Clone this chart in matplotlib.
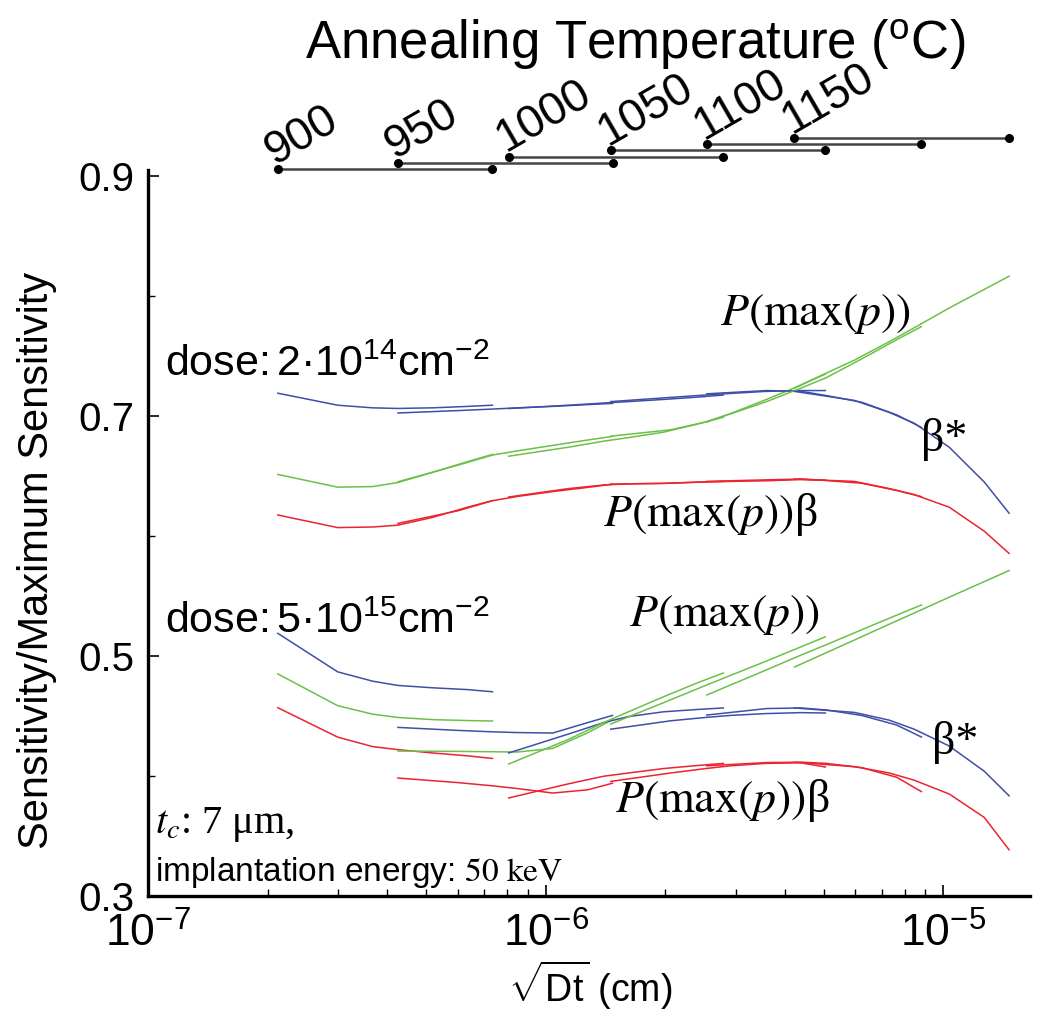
import numpy as np
import matplotlib
matplotlib.use('Agg')
import matplotlib.pyplot as plt
from matplotlib.ticker import LogLocator, NullFormatter

plt.rcParams['font.family'] = ['Liberation Sans', 'DejaVu Sans']
plt.rcParams['mathtext.fontset'] = 'custom'
plt.rcParams['mathtext.rm'] = 'Liberation Sans'
plt.rcParams['mathtext.it'] = 'Liberation Sans:italic'
plt.rcParams['mathtext.bf'] = 'Liberation Sans:bold'

# annealing temperatures (C), anneal times (min), diffusion length sqrt(Dt) after 5 min (cm)
temps = [900, 950, 1000, 1050, 1100, 1150]
times_min = [5, 10, 15, 20, 30, 45, 60]
diff_len_5min = [2.12e-7, 4.25e-7, 8.07e-7, 1.457e-6, 2.54e-6, 4.22e-6]

# dose 2e14 cm^-2, one row per temperature, one value per anneal time
beta_hi = [
    [0.719, 0.709, 0.7068, 0.7063, 0.7068, 0.708, 0.709],
    [0.7025, 0.7045, 0.7058, 0.7068, 0.708, 0.7095, 0.7105],
    [0.7062, 0.709, 0.7108, 0.712, 0.7138, 0.7158, 0.7175],
    [0.712, 0.7155, 0.7175, 0.7188, 0.7205, 0.7212, 0.7212],
    [0.7185, 0.7212, 0.7205, 0.717, 0.7115, 0.701, 0.6905],
    [0.7205, 0.713, 0.703, 0.694, 0.674, 0.645, 0.619],
]
pmax_hi = [
    [0.6513, 0.6407, 0.6412, 0.6445, 0.653, 0.662, 0.668],
    [0.6452, 0.659, 0.6675, 0.671, 0.6755, 0.68, 0.683],
    [0.6665, 0.674, 0.679, 0.682, 0.6865, 0.6935, 0.699],
    [0.6832, 0.6885, 0.695, 0.702, 0.7135, 0.7255, 0.735],
    [0.695, 0.712, 0.7235, 0.732, 0.7475, 0.7635, 0.7745],
    [0.7235, 0.7465, 0.762, 0.7735, 0.79, 0.8055, 0.8165],
]
prod_hi = [
    [0.6175, 0.607, 0.6075, 0.609, 0.6155, 0.624, 0.6295],
    [0.6105, 0.621, 0.6295, 0.633, 0.637, 0.6405, 0.6432],
    [0.6325, 0.6395, 0.6425, 0.6435, 0.6438, 0.645, 0.6455],
    [0.6432, 0.644, 0.645, 0.6455, 0.646, 0.647, 0.6465],
    [0.6455, 0.6468, 0.6475, 0.6462, 0.644, 0.638, 0.6328],
    [0.6475, 0.6455, 0.6395, 0.6345, 0.624, 0.604, 0.5855],
]

# dose 5e15 cm^-2
beta_lo = [
    [0.5189, 0.4868, 0.479, 0.4755, 0.4735, 0.472, 0.4702],
    [0.4405, 0.438, 0.4368, 0.4362, 0.4358, 0.4445, 0.4505],
    [0.4192, 0.435, 0.4445, 0.4495, 0.4535, 0.4555, 0.4567],
    [0.439, 0.446, 0.4488, 0.4505, 0.452, 0.4528, 0.4525],
    [0.4508, 0.4562, 0.4567, 0.455, 0.4505, 0.4425, 0.4325],
    [0.4567, 0.453, 0.4465, 0.439, 0.425, 0.404, 0.3835],
]
pmax_lo = [
    [0.4851, 0.4586, 0.4515, 0.4488, 0.447, 0.4462, 0.4458],
    [0.4208, 0.4205, 0.4202, 0.42, 0.423, 0.436, 0.447],
    [0.41, 0.4305, 0.4445, 0.4535, 0.466, 0.478, 0.4858],
    [0.4433, 0.4635, 0.4755, 0.4838, 0.4955, 0.5075, 0.516],
    [0.4675, 0.4885, 0.501, 0.5095, 0.5218, 0.534, 0.5425],
    [0.4908, 0.5133, 0.5265, 0.5358, 0.549, 0.562, 0.5712],
]
prod_lo = [
    [0.4569, 0.4324, 0.4245, 0.422, 0.4192, 0.4168, 0.4146],
    [0.3983, 0.3945, 0.3918, 0.3895, 0.3858, 0.3885, 0.394],
    [0.3817, 0.3935, 0.3998, 0.4025, 0.4062, 0.4088, 0.4105],
    [0.3955, 0.4025, 0.4062, 0.4085, 0.4105, 0.411, 0.4075],
    [0.4085, 0.4112, 0.4115, 0.4105, 0.407, 0.399, 0.387],
    [0.4115, 0.4078, 0.4025, 0.3965, 0.385, 0.3655, 0.3385],
]

blue = '#3f4fa8'
green = '#6cc04a'
red = '#ec2330'

W, H = 1050, 1025
def fx(px):
    return px / W
def fy(py):
    return 1 - py / H

fig = plt.figure(figsize=(W / 100, H / 100), dpi=100)
ax = fig.add_axes([fx(148), fy(896), fx(1030) - fx(148), fy(170) - fy(896)])

t = np.array(times_min, dtype=float)
for i in range(len(temps)):
    x = diff_len_5min[i] * np.sqrt(t / times_min[0])
    for series, col in [(beta_hi, blue), (pmax_hi, green), (prod_hi, red),
                        (beta_lo, blue), (pmax_lo, green), (prod_lo, red)]:
        ax.plot(x, series[i], color=col, lw=1.1)

# temperature bars above the plot
for i, T in enumerate(temps):
    x0 = diff_len_5min[i]
    x1 = diff_len_5min[i] * np.sqrt(times_min[-1] / times_min[0])
    yrow = 0.906 + 0.0051 * i
    ax.plot([x0, x1], [yrow, yrow], color='#444444', lw=1.8, clip_on=False)
    ax.plot([x0, x1], [yrow, yrow], 'o', color='black', ms=5.5, clip_on=False)
    ax.annotate(str(T), (x0, yrow), xytext=(-2, 3), textcoords='offset points',
                rotation=30, rotation_mode='anchor', ha='left', va='baseline',
                fontsize=33, annotation_clip=False)

ax.set_xscale('log')
ax.set_xlim(1e-7, 1.65e-5)
ax.set_ylim(0.3, 0.905)
ax.set_yticks([0.3, 0.5, 0.7, 0.9])
ax.set_yticklabels(['0.3', '0.5', '0.7', '0.9'])
ax.set_yticks([0.4, 0.6, 0.8], minor=True)
ax.xaxis.set_major_locator(LogLocator(base=10, numticks=10))
ax.xaxis.set_minor_locator(LogLocator(base=10, subs=np.arange(2, 10), numticks=30))
ax.xaxis.set_minor_formatter(NullFormatter())
for s in ['top', 'right']:
    ax.spines[s].set_visible(False)
for s in ['left', 'bottom']:
    ax.spines[s].set_linewidth(2.4)
ax.tick_params(which='major', direction='in', length=8, width=1.2, pad=10)
ax.tick_params(axis='y', labelsize=29)
ax.tick_params(axis='x', labelsize=32, pad=12)
ax.tick_params(which='minor', direction='in', length=5, width=1.0)

fig.text(fx(635), fy(45), r'Annealing Temperature ($^{\mathrm{o}}$C)', fontsize=38,
         ha='center', va='center')
fig.text(fx(590), fy(985), r'$\sqrt{\mathrm{Dt}}$ (cm)', fontsize=27, ha='center', va='center')
fig.text(fx(37), fy(560), 'Sensitivity/Maximum Sensitivity', rotation=90, fontsize=30,
         ha='center', va='center')

fig.text(fx(165), fy(365), 'dose:$\\,$2·10$^{14}$cm$^{-2}$', fontsize=31, ha='left', va='center')
fig.text(fx(165), fy(622), 'dose:$\\,$5·10$^{15}$cm$^{-2}$', fontsize=31, ha='left', va='center')

serif = dict(fontfamily=['Liberation Serif', 'DejaVu Serif'], math_fontfamily='stix',
             fontsize=33, va='center')
fig.text(fx(816), fy(314), r'$P(\mathrm{max}(p))$', ha='center', **serif)
fig.text(fx(944), fy(440), 'β*', ha='center', **serif)
fig.text(fx(710), fy(515), r'$P(\mathrm{max}(p))$β', ha='center', **serif)
fig.text(fx(725), fy(615), r'$P(\mathrm{max}(p))$', ha='center', **serif)
fig.text(fx(955), fy(742), 'β*', ha='center', **serif)
fig.text(fx(722), fy(800), r'$P(\mathrm{max}(p))$β', ha='center', **serif)

fig.text(fx(155), fy(825), r'$t_c$: 7 μm,', fontfamily=['Liberation Serif', 'DejaVu Serif'],
         math_fontfamily='stix', fontsize=29, ha='left', va='center')
fig.text(fx(155), fy(873), r'implantation energy: $\mathrm{50\ keV}$', math_fontfamily='stix',
         fontsize=24, ha='left', va='center')

fig.savefig('out.png', dpi=100)
